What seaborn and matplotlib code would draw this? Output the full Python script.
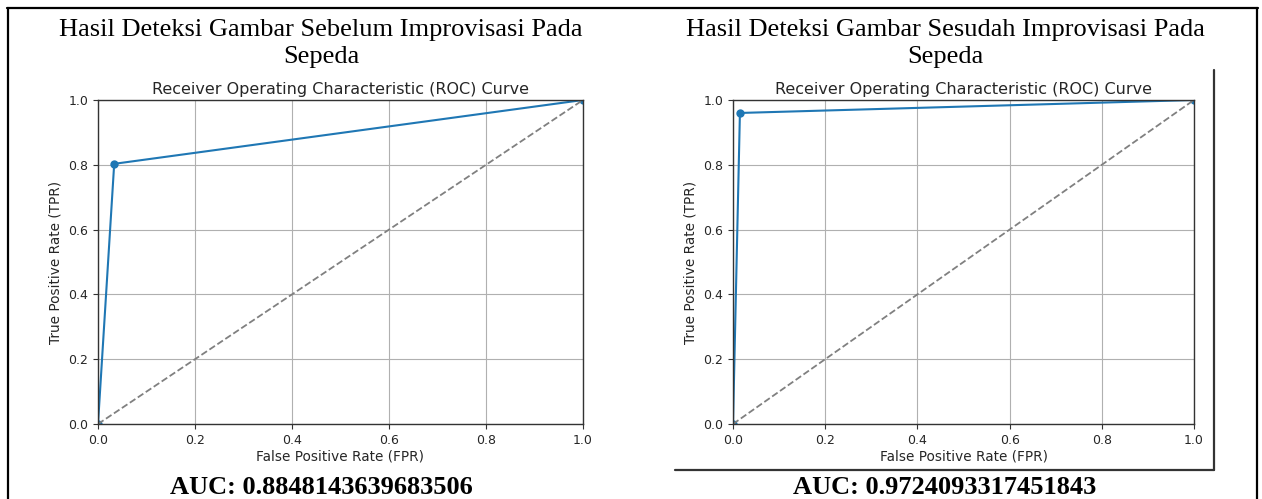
import matplotlib
matplotlib.use("Agg")
import matplotlib.pyplot as plt
import seaborn as sns
import pandas as pd
from matplotlib.lines import Line2D

# ROC points
fpr_before = [0.0, 0.0334, 1.0]
tpr_before = [0.0, 0.803, 1.0]
fpr_after = [0.0, 0.015, 1.0]
tpr_after = [0.0, 0.96, 1.0]

headers = [
    "Hasil Deteksi Gambar Sebelum Improvisasi Pada\nSepeda",
    "Hasil Deteksi Gambar Sesudah Improvisasi Pada\nSepeda",
]
auc_labels = ["AUC: 0.8848143639683506", "AUC: 0.9724093317451843"]
ticks = [0.0, 0.2, 0.4, 0.6, 0.8, 1.0]

sns.set_style("ticks")
plt.rcParams['font.family'] = ['DejaVu Sans']

W, H = 1262, 499
fig = plt.figure(figsize=(W / 100, H / 100), dpi=100)


def fx(px):
    return px / W


def fy(py):
    return 1 - py / H


def roc_panel(rect, fpr, tpr):
    ax = fig.add_axes(rect)
    df = pd.DataFrame({"fpr": fpr, "tpr": tpr})
    sns.lineplot(data=df, x="fpr", y="tpr", marker="o", markersize=6,
                 markeredgewidth=0, color="#1f77b4", linewidth=1.5,
                 sort=False, estimator=None, ax=ax)
    ax.plot([0, 1], [0, 1], linestyle="--", color="gray", linewidth=1.3)
    ax.set_xlim(0, 1)
    ax.set_ylim(0, 1)
    ax.set_xticks(ticks)
    ax.set_yticks(ticks)
    ax.tick_params(labelsize=9, length=3.5, width=0.8, color="#333333")
    ax.grid(True, color="#b0b0b0", linewidth=0.8)
    for s in ax.spines.values():
        s.set_color("#333333")
        s.set_linewidth(1.0)
    ax.set_xlabel("False Positive Rate (FPR)", fontsize=9.8, labelpad=2)
    ax.set_ylabel("True Positive Rate (TPR)", fontsize=9.8)
    ax.set_title("Receiver Operating Characteristic (ROC) Curve", fontsize=11.5, pad=4)
    return ax


roc_panel([fx(98), fy(424), fx(583 - 98), (424 - 100) / H], fpr_before, tpr_before)
roc_panel([fx(733), fy(424), fx(1194 - 733), (424 - 100) / H], fpr_after, tpr_after)

# header and AUC texts (document style, serif)
for cx, head, auc in zip([321, 945], headers, auc_labels):
    fig.text(fx(cx), fy(43.5), head, ha="center", va="center", color="black",
             family="Liberation Serif", fontsize=19, linespacing=1.32)
    fig.text(fx(cx), fy(487), auc, ha="center", va="center", color="black",
             family="Liberation Serif", fontsize=19, fontweight="bold")

# table borders
blk = dict(color="black", linewidth=1.6, transform=fig.transFigure)
fig.add_artist(Line2D([fx(7), fx(1258)], [fy(8), fy(8)], **blk))
fig.add_artist(Line2D([fx(8), fx(8)], [fy(8), 0], **blk))
fig.add_artist(Line2D([fx(1257), fx(1257)], [fy(8), 0], **blk))

# frame of the pasted screenshot on the right
gry = dict(color="#333333", linewidth=1.6, transform=fig.transFigure)
fig.add_artist(Line2D([fx(1214), fx(1214)], [fy(70), fy(470)], **gry))
fig.add_artist(Line2D([fx(675), fx(1214)], [fy(470), fy(470)], **gry))

fig.savefig("out.png", dpi=100)
